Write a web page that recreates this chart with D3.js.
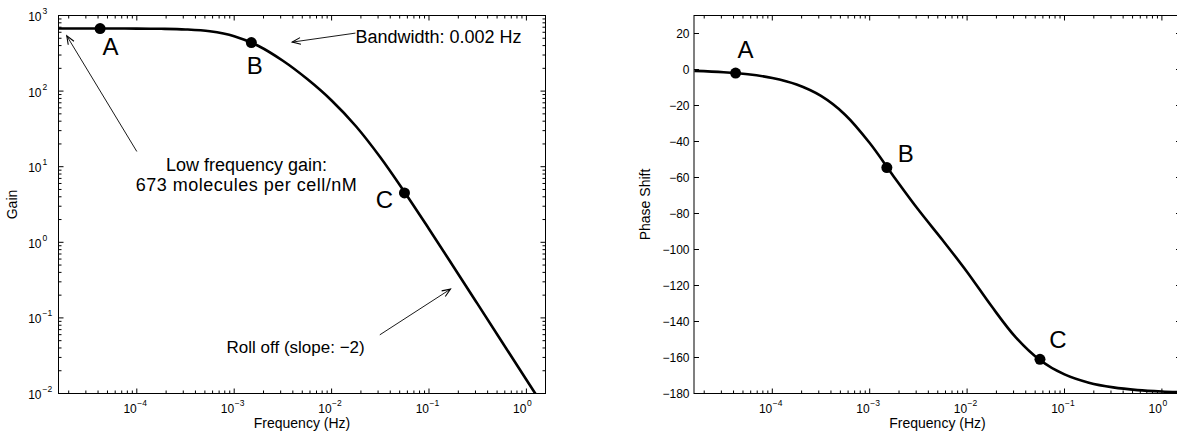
<!DOCTYPE html>
<html><head><meta charset="utf-8">
<script src="https://cdn.jsdelivr.net/npm/d3@7"></script>
<style>
html,body{margin:0;padding:0;background:#fff;}
svg{display:block;font-family:"Liberation Sans",Arial,Helvetica,sans-serif;}
</style></head>
<body>
<svg id="chart" width="1177" height="435"></svg>
<script>
// ---- data ----
const freqs = [1.585e-5, 3.162e-5, 5.623e-5, 1e-4, 1.778e-4, 3.162e-4, 5.623e-4, 1e-3, 1.778e-3, 3.162e-3, 5.623e-3, 0.01, 0.01778, 0.03162, 0.05623, 0.1, 0.1778, 0.3162, 0.5623, 1, 1.585];
const gainValues = [673, 672.8, 672.4, 671, 666.8, 653.8, 617.4, 532.6, 395.1, 251.8, 144.2, 75.2, 34.3, 13.33, 4.6, 1.5, 0.479, 0.152, 0.0481, 0.0152, 0.00606];
const phaseValues = [-0.75, -1.5, -2.66, -4.73, -8.37, -14.71, -25.24, -40.86, -59.67, -77.95, -94.89, -112.48, -131.44, -148.82, -161.49, -169.39, -173.99, -176.61, -178.1, -178.93, -179.32];
const markerNames = ["A", "B", "C"];
const markerFreqs = [4.2e-5, 1.5e-3, 0.056];
const markerGains = [672.7, 439, 4.5];
const markerPhases = [-2, -54.5, -161];
const freqTicks = [1e-4, 1e-3, 1e-2, 1e-1, 1];
const freqTickExps = ["−4", "−3", "−2", "−1", "0"];
const gainTicks = [1e-2, 1e-1, 1, 10, 100, 1000];
const gainTickExps = ["−2", "−1", "0", "1", "2", "3"];
const phaseTicks = [-180, -160, -140, -120, -100, -80, -60, -40, -20, 0, 20];
const freqDomain = [1.5708e-5, 1.5708];
const gainDomain = [1e-2, 1e3];
const phaseDomain = [-180, 30];

const svg = d3.select("#chart");

function minorLogTicks(dom) {
  const out = [];
  const lo = Math.floor(Math.log10(dom[0])), hi = Math.ceil(Math.log10(dom[1]));
  for (let e = lo; e <= hi; e++) for (let m = 2; m <= 9; m++) {
    const v = m * Math.pow(10, e);
    if (v >= dom[0] && v <= dom[1]) out.push(v);
  }
  return out;
}

function panel(box, id) {
  const x = d3.scaleLog().domain(freqDomain).range([box.x0, box.x1]);
  const g = svg.append("g");
  g.append("clipPath").attr("id", id).append("rect")
    .attr("x", box.x0).attr("y", box.y0).attr("width", box.x1 - box.x0).attr("height", box.y1 - box.y0);
  return {x, g};
}

function frame(g, box) {
  g.append("rect").attr("x", box.x0).attr("y", box.y0)
    .attr("width", box.x1 - box.x0).attr("height", box.y1 - box.y0)
    .attr("fill", "none").attr("stroke", "#000").attr("stroke-width", 1);
}

function xTicks(g, x, box) {
  const major = 5, minor = 3;
  freqTicks.forEach(v => {
    const px = x(v);
    g.append("line").attr("x1", px).attr("x2", px).attr("y1", box.y1).attr("y2", box.y1 - major).attr("stroke", "#000");
    g.append("line").attr("x1", px).attr("x2", px).attr("y1", box.y0).attr("y2", box.y0 + major).attr("stroke", "#000");
  });
  minorLogTicks(freqDomain).forEach(v => {
    const px = x(v);
    g.append("line").attr("x1", px).attr("x2", px).attr("y1", box.y1).attr("y2", box.y1 - minor).attr("stroke", "#000");
    g.append("line").attr("x1", px).attr("x2", px).attr("y1", box.y0).attr("y2", box.y0 + minor).attr("stroke", "#000");
  });
  freqTicks.forEach((v, i) => {
    const px = x(v);
    g.append("text").attr("x", px).attr("y", box.y1 + 19.5).attr("text-anchor", "end")
      .attr("font-size", 12).text("10");
    g.append("text").attr("x", px + 0.5).attr("y", box.y1 + 12.5).attr("text-anchor", "start")
      .attr("font-size", 8.5).text(freqTickExps[i]);
  });
  g.append("text").attr("x", (box.x0 + box.x1) / 2).attr("y", box.y1 + 34.5)
    .attr("text-anchor", "middle").attr("font-size", 14).text("Frequency (Hz)");
}

// ---------- Left: gain ----------
const boxL = {x0: 58.5, x1: 545.5, y0: 15.5, y1: 393.5};
const L = panel(boxL, "clipL");
const yG = d3.scaleLog().domain(gainDomain).range([boxL.y1, boxL.y0]);

gainTicks.forEach((v, i) => {
  const py = yG(v);
  [[boxL.x0, 5], [boxL.x1, -5]].forEach(([x0, d]) =>
    L.g.append("line").attr("x1", x0).attr("x2", x0 + d).attr("y1", py).attr("y2", py).attr("stroke", "#000"));
  L.g.append("text").attr("x", 41.5).attr("y", py + 5.5).attr("text-anchor", "end").attr("font-size", 12).text("10");
  L.g.append("text").attr("x", 42.5).attr("y", py - 1.5).attr("text-anchor", "start").attr("font-size", 8.5).text(gainTickExps[i]);
});
minorLogTicks(gainDomain).forEach(v => {
  const py = yG(v);
  [[boxL.x0, 3], [boxL.x1, -3]].forEach(([x0, d]) =>
    L.g.append("line").attr("x1", x0).attr("x2", x0 + d).attr("y1", py).attr("y2", py).attr("stroke", "#000"));
});
xTicks(L.g, L.x, boxL);
L.g.append("text").attr("transform", `translate(16.5,${(boxL.y0 + boxL.y1) / 2}) rotate(-90)`)
  .attr("text-anchor", "middle").attr("font-size", 14).text("Gain");

const gainLine = d3.line().x((d, i) => L.x(freqs[i])).y(d => yG(d)).curve(d3.curveCatmullRom.alpha(0.5));
L.g.append("path").attr("d", gainLine(gainValues)).attr("fill", "none").attr("stroke", "#000")
  .attr("stroke-width", 2.6).attr("clip-path", "url(#clipL)");
frame(L.g, boxL);

const labOffL = [[10.5, 26], [3.5, 31], [-20, 15.5]];
markerNames.forEach((n, i) => {
  const px = L.x(markerFreqs[i]), py = yG(markerGains[i]);
  L.g.append("circle").attr("cx", px).attr("cy", py).attr("r", 5.5).attr("fill", "#000");
  L.g.append("text").attr("x", px + labOffL[i][0]).attr("y", py + labOffL[i][1])
    .attr("text-anchor", "middle").attr("font-size", 24).text(n);
});

// annotations (data coordinates)
function arrow(g, x1, y1, x2, y2) {
  g.append("line").attr("x1", x1).attr("y1", y1).attr("x2", x2).attr("y2", y2).attr("stroke", "#000").attr("stroke-width", 0.9);
  const a = Math.atan2(y2 - y1, x2 - x1), len = 9, spread = 0.38;
  const p = d3.path();
  p.moveTo(x2 - len * Math.cos(a - spread), y2 - len * Math.sin(a - spread));
  p.lineTo(x2, y2);
  p.lineTo(x2 - len * Math.cos(a + spread), y2 - len * Math.sin(a + spread));
  g.append("path").attr("d", p.toString()).attr("fill", "none").attr("stroke", "#000").attr("stroke-width", 1.1);
}
arrow(L.g, L.x(1e-4), yG(15.9), L.x(1.91e-5), yG(538));
arrow(L.g, L.x(0.01758), yG(585), L.x(3.94e-3), yG(444.6));
arrow(L.g, L.x(0.03126), yG(0.0597), L.x(0.1662), yG(0.2404));

L.g.append("text").attr("x", L.x(1.34e-3)).attr("y", yG(8.9)).attr("text-anchor", "middle").attr("font-size", 18).text("Low frequency gain:");
L.g.append("text").attr("x", L.x(1.34e-3)).attr("y", yG(4.84)).attr("text-anchor", "middle").attr("font-size", 18)
  .attr("letter-spacing", 0.5).text("673 molecules per cell/nM");
L.g.append("text").attr("x", L.x(0.01758)).attr("y", yG(431)).attr("text-anchor", "start").attr("font-size", 18).text("Bandwidth: 0.002 Hz");
L.g.append("text").attr("x", L.x(8.35e-4)).attr("y", yG(0.0345)).attr("text-anchor", "start").attr("font-size", 17).text("Roll off (slope: −2)");

// ---------- Right: phase ----------
const boxR = {x0: 694, x1: 1181, y0: 15.5, y1: 393.5};
const R = panel(boxR, "clipR");
const yP = d3.scaleLinear().domain(phaseDomain).range([boxR.y1, boxR.y0]);

phaseTicks.forEach(v => {
  const py = yP(v);
  [[boxR.x0, 5], [boxR.x1, -5]].forEach(([x0, d]) =>
    R.g.append("line").attr("x1", x0).attr("x2", x0 + d).attr("y1", py).attr("y2", py).attr("stroke", "#000"));
  R.g.append("text").attr("x", 689.5).attr("y", py + 4.3).attr("text-anchor", "end").attr("font-size", 12)
    .text(v < 0 ? "−" + Math.abs(v) : String(v));
});
xTicks(R.g, R.x, boxR);
R.g.append("text").attr("transform", `translate(650,${(boxR.y0 + boxR.y1) / 2}) rotate(-90)`)
  .attr("text-anchor", "middle").attr("font-size", 14).text("Phase Shift");

const phaseLine = d3.line().x((d, i) => R.x(freqs[i])).y(d => yP(d)).curve(d3.curveCatmullRom.alpha(0.5));
R.g.append("path").attr("d", phaseLine(phaseValues)).attr("fill", "none").attr("stroke", "#000")
  .attr("stroke-width", 2.6).attr("clip-path", "url(#clipR)");
frame(R.g, boxR);

const labOffR = [[10, -15], [19, -6], [18, -11]];
markerNames.forEach((n, i) => {
  const px = R.x(markerFreqs[i]), py = yP(markerPhases[i]);
  R.g.append("circle").attr("cx", px).attr("cy", py).attr("r", 5.5).attr("fill", "#000");
  R.g.append("text").attr("x", px + labOffR[i][0]).attr("y", py + labOffR[i][1])
    .attr("text-anchor", "middle").attr("font-size", 24).text(n);
});
</script>
</body></html>
